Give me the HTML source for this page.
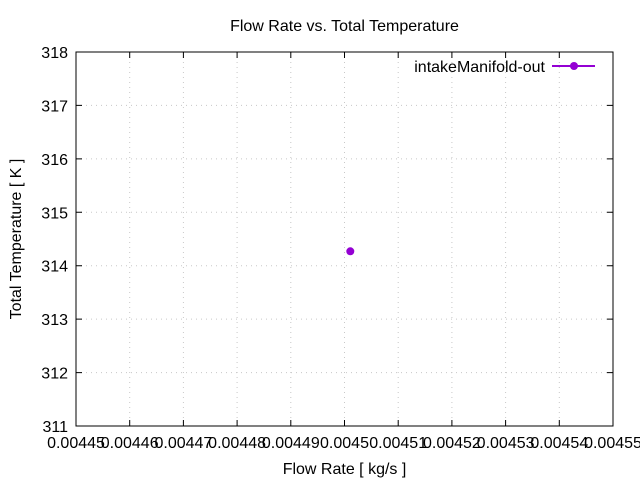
<!DOCTYPE html>
<html><head><meta charset="utf-8"><style>body{margin:0;background:#fff}svg{display:block}text{font-family:"Liberation Sans",sans-serif;fill:#000}</style></head><body>
<svg width="640" height="480" xmlns="http://www.w3.org/2000/svg">
<g stroke="#c8c8c8" stroke-width="1" stroke-dasharray="1,4">
<line x1="76" y1="105.4" x2="613" y2="105.4"/><line x1="76" y1="158.9" x2="613" y2="158.9"/><line x1="76" y1="212.3" x2="613" y2="212.3"/><line x1="76" y1="265.7" x2="613" y2="265.7"/><line x1="76" y1="319.1" x2="613" y2="319.1"/><line x1="76" y1="372.6" x2="613" y2="372.6"/>
<line x1="129.7" y1="52" x2="129.7" y2="426"/><line x1="183.4" y1="52" x2="183.4" y2="426"/><line x1="237.1" y1="52" x2="237.1" y2="426"/><line x1="290.8" y1="52" x2="290.8" y2="426"/><line x1="344.5" y1="52" x2="344.5" y2="426"/><line x1="398.2" y1="52" x2="398.2" y2="426"/><line x1="451.9" y1="52" x2="451.9" y2="426"/><line x1="505.6" y1="52" x2="505.6" y2="426"/><line x1="559.3" y1="52" x2="559.3" y2="426"/>
</g>
<g stroke="#000" stroke-width="1">
<rect x="76" y="52" width="537" height="374" fill="none"/>
<path d="M76 105.4h6M76 158.9h6M76 212.3h6M76 265.7h6M76 319.1h6M76 372.6h6M613 105.4h-6M613 158.9h-6M613 212.3h-6M613 265.7h-6M613 319.1h-6M613 372.6h-6"/>
<path d="M129.7 426v-6M183.4 426v-6M237.1 426v-6M290.8 426v-6M344.5 426v-6M398.2 426v-6M451.9 426v-6M505.6 426v-6M559.3 426v-6M129.7 52v6M183.4 52v6M237.1 52v6M290.8 52v6M344.5 52v6M398.2 52v6M451.9 52v6M505.6 52v6M559.3 52v6"/>
</g>
<g font-size="16" text-anchor="end">
<text x="68" y="58">318</text><text x="68" y="111.4">317</text><text x="68" y="164.9">316</text><text x="68" y="218.3">315</text><text x="68" y="271.7">314</text><text x="68" y="325.1">313</text><text x="68" y="378.6">312</text><text x="68" y="432">311</text>
</g>
<g font-size="16" text-anchor="middle">
<text x="76" y="448">0.00445</text><text x="129.7" y="448">0.00446</text><text x="183.4" y="448">0.00447</text><text x="237.1" y="448">0.00448</text><text x="290.8" y="448">0.00449</text><text x="344.5" y="448">0.0045</text><text x="398.2" y="448">0.00451</text><text x="451.9" y="448">0.00452</text><text x="505.6" y="448">0.00453</text><text x="559.3" y="448">0.00454</text><text x="613" y="448">0.00455</text>
<text x="344.5" y="474">Flow Rate [ kg/s ]</text>
<text x="344.5" y="31">Flow Rate vs. Total Temperature</text>
<text transform="translate(21,239) rotate(-90)">Total Temperature [ K ]</text>
</g>
<text x="545" y="72" font-size="16" text-anchor="end">intakeManifold-out</text>
<line x1="552" y1="66" x2="595" y2="66" stroke="#9400d3" stroke-width="2"/>
<circle cx="574" cy="66" r="4" fill="#9400d3"/>
<circle cx="350.3" cy="251.3" r="4" fill="#9400d3"/>
</svg>
</body></html>
